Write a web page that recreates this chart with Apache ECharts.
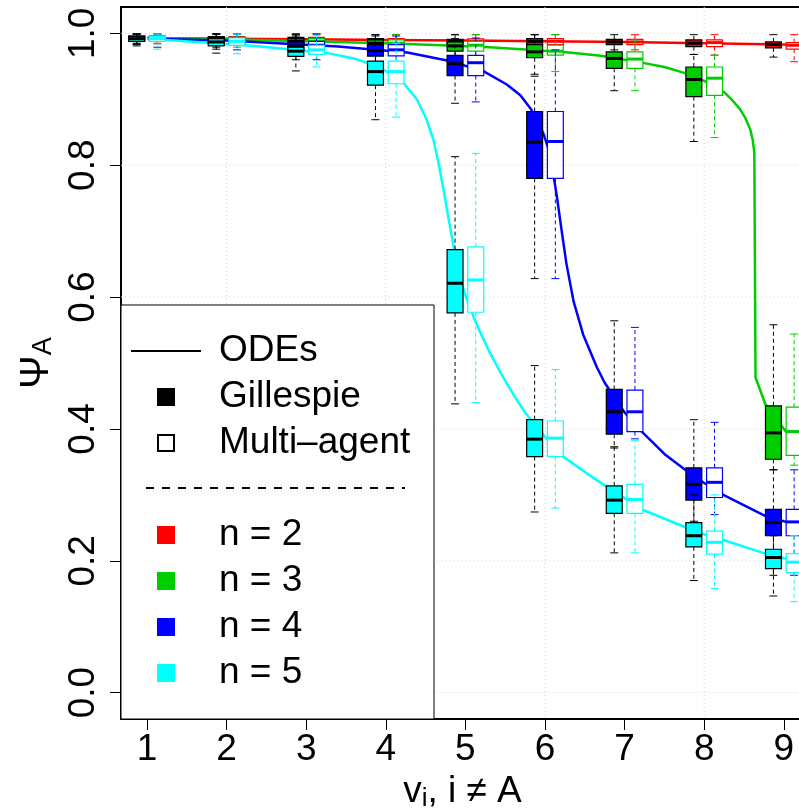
<!DOCTYPE html>
<html>
<head>
<meta charset="utf-8">
<script src="https://cdn.jsdelivr.net/npm/echarts@6/dist/echarts.min.js"></script>
<style>
html, body { margin: 0; padding: 0; background: #fff; }
#main { width: 799px; height: 809px; }
</style>
</head>
<body>
<div id="main"></div>
<script>
var xValues = [1, 2, 3, 4, 5, 6, 7, 8, 9];
var yTicks = [0, 0.2, 0.4, 0.6, 0.8, 1.0];
var gridXs = [2, 4, 6, 8];
var colors = ['#FF0000', '#00CD00', '#0000FF', '#00FFFF'];

// box stats per x = 1..9 : [lower whisker, Q1, median, Q3, upper whisker]
var gil_n2 = [[0.985,0.990,0.993,0.996,0.999],[0.982,0.988,0.992,0.995,0.999],[0.980,0.987,0.991,0.994,0.999],[0.977,0.985,0.989,0.992,0.998],[0.975,0.984,0.988,0.991,0.998],[0.972,0.983,0.988,0.992,0.998],[0.975,0.983,0.987,0.991,0.998],[0.968,0.980,0.985,0.990,0.998],[0.964,0.978,0.983,0.987,0.998]];
var ma_n2 = [[0.985,0.990,0.993,0.996,0.999],[0.982,0.988,0.992,0.995,0.999],[0.980,0.987,0.991,0.994,0.999],[0.977,0.985,0.989,0.992,0.998],[0.975,0.985,0.988,0.9915,0.998],[0.972,0.983,0.988,0.992,0.998],[0.975,0.983,0.987,0.991,0.998],[0.967,0.980,0.986,0.990,0.998],[0.957,0.976,0.982,0.986,0.998]];
var gil_n3 = [[0.984,0.989,0.993,0.996,0.999],[0.979,0.986,0.990,0.994,0.999],[0.975,0.983,0.988,0.992,0.999],[0.968,0.979,0.985,0.990,0.998],[0.955,0.973,0.981,0.987,0.998],[0.938,0.963,0.972,0.983,0.998],[0.913,0.947,0.962,0.972,0.990],[0.836,0.904,0.930,0.949,0.968],[0.338,0.354,0.394,0.435,0.558]];
var ma_n3 = [[0.984,0.989,0.993,0.996,0.999],[0.979,0.986,0.990,0.994,0.999],[0.975,0.983,0.988,0.992,0.999],[0.968,0.979,0.985,0.990,0.998],[0.957,0.973,0.982,0.988,0.998],[0.942,0.967,0.973,0.982,0.998],[0.913,0.947,0.961,0.972,0.990],[0.842,0.906,0.932,0.949,0.967],[0.345,0.360,0.396,0.433,0.544]];
var gil_n4 = [[0.983,0.989,0.992,0.995,0.999],[0.976,0.984,0.989,0.993,0.999],[0.960,0.974,0.981,0.987,0.998],[0.945,0.9655,0.974,0.983,0.996],[0.894,0.936,0.954,0.9666,0.992],[0.628,0.780,0.835,0.8815,0.935],[0.371,0.392,0.426,0.460,0.564],[0.260,0.292,0.316,0.341,0.414],[0.178,0.238,0.258,0.278,0.338]];
var ma_n4 = [[0.979,0.989,0.992,0.995,0.999],[0.975,0.984,0.989,0.993,0.999],[0.960,0.975,0.982,0.988,0.999],[0.947,0.966,0.975,0.983,0.996],[0.896,0.936,0.9555,0.9666,0.993],[0.628,0.780,0.836,0.8815,0.975],[0.385,0.396,0.426,0.459,0.554],[0.270,0.296,0.319,0.341,0.410],[0.178,0.238,0.259,0.278,0.338]];
var gil_n5 = [[0.981,0.988,0.992,0.995,0.999],[0.970,0.981,0.987,0.992,0.999],[0.943,0.965,0.973,0.979,0.996],[0.869,0.9215,0.942,0.958,0.985],[0.438,0.576,0.621,0.672,0.813],[0.274,0.358,0.3845,0.414,0.496],[0.212,0.272,0.292,0.3136,0.373],[0.170,0.221,0.238,0.258,0.300],[0.1466,0.188,0.205,0.2175,0.238]];
var ma_n5 = [[0.976,0.988,0.992,0.995,0.999],[0.969,0.982,0.988,0.993,0.999],[0.949,0.968,0.975,0.982,0.997],[0.873,0.9236,0.942,0.958,0.985],[0.440,0.577,0.626,0.676,0.818],[0.280,0.358,0.386,0.412,0.490],[0.212,0.272,0.293,0.316,0.382],[0.158,0.210,0.228,0.245,0.300],[0.138,0.182,0.198,0.211,0.238]];

// ODE solutions [x, psi]
var ode_n2 = [[1,0.993],[2,0.992],[3,0.991],[4,0.990],[5,0.989],[6,0.988],[7,0.987],[8,0.985],[9,0.983],[9.3,0.982]];
var ode_n3 = [[1,0.993],[2,0.991],[3,0.988],[4,0.985],[4.7,0.982],[5.3,0.979],[5.8,0.975],[6.3,0.971],[6.7,0.966],[7.2,0.956],[7.5,0.949],[7.75,0.940],[8.0,0.928],[8.25,0.911],[8.35,0.899],[8.45,0.885],[8.52,0.871],[8.58,0.854],[8.61,0.838],[8.63,0.819],[8.645,0.478],[8.77,0.437],[9.04,0.394],[9.3,0.382]];
var ode_n4 = [[1,0.992],[2,0.989],[2.64,0.985],[3.4,0.980],[4.27,0.971],[4.77,0.959],[5.22,0.943],[5.52,0.9225],[5.69,0.906],[5.83,0.884],[5.98,0.848],[6.04,0.826],[6.10,0.790],[6.15,0.752],[6.21,0.700],[6.27,0.650],[6.36,0.593],[6.48,0.543],[6.65,0.494],[6.75,0.470],[7.0,0.425],[7.19,0.399],[7.5,0.362],[7.74,0.340],[8.0,0.318],[8.24,0.300],[8.74,0.2695],[9.0,0.260],[9.3,0.252]];
var ode_n5 = [[1,0.992],[1.72,0.986],[2.35,0.981],[2.68,0.977],[3.27,0.970],[3.6,0.962],[3.77,0.955],[4.0,0.943],[4.22,0.925],[4.39,0.900],[4.51,0.870],[4.60,0.838],[4.66,0.805],[4.72,0.766],[4.79,0.718],[4.85,0.678],[4.92,0.637],[4.98,0.610],[5.05,0.586],[5.12,0.565],[5.20,0.543],[5.31,0.515],[5.43,0.488],[5.52,0.469],[5.62,0.449],[5.75,0.425],[6.0,0.388],[6.23,0.358],[6.52,0.333],[6.775,0.3125],[7.0,0.295],[7.235,0.277],[7.74,0.252],[8.0,0.240],[8.24,0.2316],[8.74,0.212],[9.3,0.195]];

var boxWidth = 0.2;
var boxOffset = 0.13;
var FONT = 'Liberation Sans';

var dom = document.getElementById('main');
var myChart = echarts.init(dom);

function boxSeries(stats, color, gillespie) {
    var edge = gillespie ? '#000' : color;
    var fill = gillespie ? color : '#fff';
    return {
        type: 'custom',
        silent: true,
        animation: false,
        z: 3,
        data: stats.map(function (s, i) { return [xValues[i]].concat(s); }),
        encode: { x: 0, y: [1, 2, 3, 4, 5] },
        renderItem: function (params, api) {
            var x = api.value(0) + (gillespie ? -boxOffset : boxOffset);
            var lo = api.coord([x, api.value(1)]);
            var q1 = api.coord([x, api.value(2)]);
            var md = api.coord([x, api.value(3)]);
            var q3 = api.coord([x, api.value(4)]);
            var hi = api.coord([x, api.value(5)]);
            var w = api.size([boxWidth, 0])[0];
            var cx = lo[0];
            var dash = { stroke: edge, lineWidth: 1, lineDash: [4, 3] };
            var solid = { stroke: edge, lineWidth: 1 };
            return {
                type: 'group',
                children: [
                    { type: 'line', shape: { x1: cx, y1: q3[1], x2: cx, y2: hi[1] }, style: dash },
                    { type: 'line', shape: { x1: cx, y1: q1[1], x2: cx, y2: lo[1] }, style: dash },
                    { type: 'line', shape: { x1: cx - w / 4, y1: hi[1], x2: cx + w / 4, y2: hi[1] }, style: solid },
                    { type: 'line', shape: { x1: cx - w / 4, y1: lo[1], x2: cx + w / 4, y2: lo[1] }, style: solid },
                    { type: 'rect', shape: { x: cx - w / 2, y: q3[1], width: w, height: q1[1] - q3[1] },
                      style: { fill: fill, stroke: edge, lineWidth: 1.2 } },
                    { type: 'line', shape: { x1: cx - w / 2, y1: md[1], x2: cx + w / 2, y2: md[1] },
                      style: { stroke: edge, lineWidth: 3 } }
                ]
            };
        }
    };
}

function odeSeries(data, color) {
    return {
        type: 'line',
        data: data,
        symbol: 'none',
        silent: true,
        animation: false,
        clip: true,
        z: 2,
        lineStyle: { color: color, width: 2.5, join: 'round' }
    };
}

var gridSeries = {
    type: 'custom',
    silent: true,
    animation: false,
    z: 1,
    data: gridXs.map(function (v) { return [v, 0, 0]; }).concat(yTicks.map(function (v) { return [1, v, 1]; })),
    renderItem: function (params, api) {
        var cs = params.coordSys;
        var dotted = { stroke: '#D3D3D3', lineWidth: 1, lineDash: [1, 3] };
        if (api.value(2) === 0) {
            var px = api.coord([api.value(0), 0])[0];
            return { type: 'line', shape: { x1: px, y1: cs.y, x2: px, y2: cs.y + cs.height }, style: dotted };
        }
        var py = api.coord([1, api.value(1)])[1];
        return { type: 'line', shape: { x1: cs.x, y1: py, x2: cs.x + cs.width, y2: py }, style: dotted };
    }
};

var legendRows = [
    { label: 'ODEs', y: 351, kind: 'line' },
    { label: 'Gillespie', y: 397, kind: 'filled', color: '#000' },
    { label: 'Multi\u2013agent', y: 443, kind: 'open' },
    { label: 'n = 2', y: 535, kind: 'filled', color: colors[0] },
    { label: 'n = 3', y: 581, kind: 'filled', color: colors[1] },
    { label: 'n = 4', y: 627, kind: 'filled', color: colors[2] },
    { label: 'n = 5', y: 673, kind: 'filled', color: colors[3] }
];
var legendGraphics = [{
    type: 'rect', z: 100,
    shape: { x: 121, y: 305, width: 313, height: 414 },
    style: { fill: '#fff', stroke: '#000', lineWidth: 1 }
}, {
    type: 'line', z: 101,
    shape: { x1: 146, y1: 488, x2: 405, y2: 488 },
    style: { stroke: '#000', lineWidth: 2, lineDash: [8, 8] }
}];
legendRows.forEach(function (r) {
    if (r.kind === 'line') {
        legendGraphics.push({ type: 'line', z: 101, shape: { x1: 131, y1: r.y, x2: 201, y2: r.y },
            style: { stroke: '#000', lineWidth: 2 } });
    } else if (r.kind === 'filled') {
        legendGraphics.push({ type: 'rect', z: 101, shape: { x: 157, y: r.y - 9, width: 18, height: 18 },
            style: { fill: r.color } });
    } else {
        legendGraphics.push({ type: 'rect', z: 101, shape: { x: 158, y: r.y - 8, width: 16, height: 16 },
            style: { fill: '#fff', stroke: '#000', lineWidth: 2 } });
    }
    legendGraphics.push({ type: 'text', z: 101, x: 219, y: r.y,
        style: { text: r.label, font: '37px "' + FONT + '"', fill: '#000', verticalAlign: 'middle' } });
});

option = {
    backgroundColor: '#fff',
    animation: false,
    grid: { left: 121, top: 7, right: -5, bottom: 90, containLabel: false, outerBoundsMode: 'none' },
    xAxis: [{
        type: 'value', min: 0.673, max: 9.254, position: 'bottom',
        axisLine: { show: true, onZero: false, lineStyle: { color: '#000', width: 2 } },
        axisTick: { show: true, customValues: xValues, length: 11, lineStyle: { color: '#000', width: 1 } },
        axisLabel: { customValues: xValues, fontSize: 37, fontFamily: FONT, color: '#000', margin: 12,
            formatter: function (v) { return String(v); } },
        splitLine: { show: false },
        name: 'v{sub|i}, i \u2260 A',
        nameLocation: 'middle', nameGap: 51,
        nameTextStyle: { fontSize: 37, fontFamily: FONT, color: '#000',
            rich: { sub: { fontSize: 26, fontFamily: FONT, color: '#000', verticalAlign: 'bottom', padding: [14, 0, 0, 0] } } }
    }, {
        type: 'value', min: 0.673, max: 9.254, position: 'top',
        axisLine: { show: true, onZero: false, lineStyle: { color: '#000', width: 2 } },
        axisTick: { show: false }, axisLabel: { show: false }, splitLine: { show: false }
    }],
    yAxis: [{
        type: 'value', min: -0.04, max: 1.04, position: 'left',
        axisLine: { show: true, onZero: false, lineStyle: { color: '#000', width: 2 } },
        axisTick: { show: true, customValues: yTicks, length: 11, lineStyle: { color: '#000', width: 1 } },
        axisLabel: { customValues: yTicks, fontSize: 37, fontFamily: FONT, color: '#000', margin: 19, rotate: 90,
            formatter: function (v) { return v.toFixed(1); } },
        splitLine: { show: false },
        name: '\u03A8{sub|A}',
        nameLocation: 'middle', nameGap: 62, nameRotate: 90,
        nameTextStyle: { fontSize: 40, fontFamily: FONT, color: '#000',
            rich: { sub: { fontSize: 27, fontFamily: FONT, color: '#000', padding: [14, 0, 0, 0] } } }
    }],
    graphic: legendGraphics,
    series: [
        gridSeries,
        odeSeries(ode_n2, colors[0]),
        odeSeries(ode_n3, colors[1]),
        odeSeries(ode_n4, colors[2]),
        odeSeries(ode_n5, colors[3]),
        boxSeries(gil_n2, colors[0], true),
        boxSeries(ma_n2, colors[0], false),
        boxSeries(gil_n3, colors[1], true),
        boxSeries(ma_n3, colors[1], false),
        boxSeries(gil_n4, colors[2], true),
        boxSeries(ma_n4, colors[2], false),
        boxSeries(gil_n5, colors[3], true),
        boxSeries(ma_n5, colors[3], false)
    ]
};
if (option && typeof option === "object") {
    myChart.setOption(option, true);
}
</script>
</body>
</html>
